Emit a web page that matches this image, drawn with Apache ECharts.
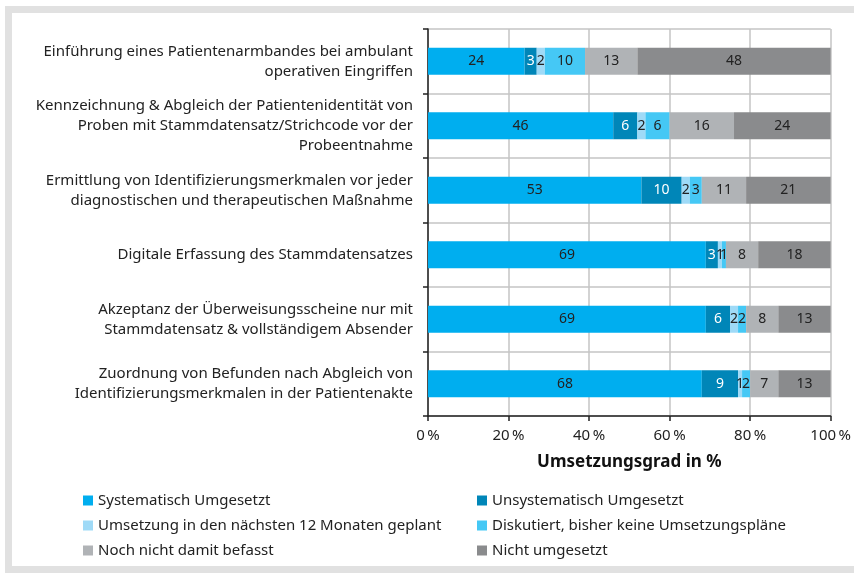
<!DOCTYPE html>
<html>
<head>
<meta charset="utf-8">
<script src="https://cdn.jsdelivr.net/npm/echarts@6/dist/echarts.min.js"></script>
<style>
  html, body { margin: 0; padding: 0; background: #fff; }
  #chart { width: 854px; height: 573px; }
</style>
</head>
<body>
<div id="chart"></div>
<script>
// Maßnahmen (von oben nach unten)
const categories = [
  "Einführung eines Patientenarmbandes bei ambulant\noperativen Eingriffen",
  "Kennzeichnung & Abgleich der Patientenidentität von\nProben mit Stammdatensatz/Strichcode vor der\nProbeentnahme",
  "Ermittlung von Identifizierungsmerkmalen vor jeder\ndiagnostischen und therapeutischen Maßnahme",
  "Digitale Erfassung des Stammdatensatzes",
  "Akzeptanz der Überweisungsscheine nur mit\nStammdatensatz & vollständigem Absender",
  "Zuordnung von Befunden nach Abgleich von\nIdentifizierungsmerkmalen in der Patientenakte"
];
const seriesNames = [
  "Systematisch Umgesetzt",
  "Unsystematisch Umgesetzt",
  "Umsetzung in den nächsten 12 Monaten geplant",
  "Diskutiert, bisher keine Umsetzungspläne",
  "Noch nicht damit befasst",
  "Nicht umgesetzt"
];
const systematisch   = [24, 46, 53, 69, 69, 68];
const unsystematisch = [3, 6, 10, 3, 6, 9];
const geplant        = [2, 2, 2, 1, 2, 1];
const diskutiert     = [10, 6, 3, 1, 2, 2];
const nochNicht      = [13, 16, 11, 8, 8, 7];
const nichtUmgesetzt = [48, 24, 21, 18, 13, 13];
const xTicks = [0, 20, 40, 60, 80, 100];

const colors = ["#00aeef", "#0086b8", "#9fdaf7", "#45c8f5", "#b0b3b6", "#8a8b8d"];
const labelColors = ["#222", "#fff", "#222", "#222", "#222", "#222"];
const values = [systematisch, unsystematisch, geplant, diskutiert, nochNicht, nichtUmgesetzt];

const font = "Noto Sans";

const chart = echarts.init(document.getElementById("chart"));
const option = {
  backgroundColor: "#fff",
  animation: false,
  textStyle: { fontFamily: font },
  graphic: [
    { type: "rect", shape: { x: 5, y: 6, width: 849, height: 7 }, style: { fill: "#e1e1e1" } },
    { type: "rect", shape: { x: 5, y: 6, width: 7, height: 564 }, style: { fill: "#e1e1e1" } },
    { type: "rect", shape: { x: 5, y: 566, width: 849, height: 7 }, style: { fill: "#e1e1e1" } }
  ],
  grid: { left: 428, right: 23, top: 29, bottom: 157, containLabel: false },
  xAxis: {
    type: "value",
    min: 0,
    max: 100,
    interval: 20,
    name: "Umsetzungsgrad in %",
    nameLocation: "middle",
    nameGap: 38,
    nameTextStyle: { fontSize: 17, fontWeight: "bold", color: "#111", fontFamily: font },
    axisLine: { show: true, lineStyle: { color: "#222", width: 1.5 } },
    axisTick: { show: true, length: 5, lineStyle: { color: "#222", width: 1.5 } },
    axisLabel: {
      fontSize: 15, color: "#222", margin: 12,
      formatter: v => xTicks.includes(v) ? v + "\u2009%" : ""
    },
    splitLine: { show: true, lineStyle: { color: "#c4c4c4", width: 1.5 } }
  },
  yAxis: {
    type: "category",
    inverse: true,
    data: categories,
    axisLine: { show: true, lineStyle: { color: "#222", width: 1.5 } },
    axisTick: { show: true, length: 5, lineStyle: { color: "#222", width: 1.5 } },
    axisLabel: { fontSize: 15, color: "#222", lineHeight: 20, align: "right", margin: 15 },
    splitLine: { show: true, lineStyle: { color: "#c4c4c4", width: 1.5 } }
  },
  legend: [
    {
      data: [seriesNames[0], seriesNames[2], seriesNames[4]],
      orient: "vertical", left: 78, top: 488, itemGap: 10,
      itemWidth: 10, itemHeight: 10, icon: "rect",
      textStyle: { fontSize: 15, color: "#222", fontFamily: font }
    },
    {
      data: [seriesNames[1], seriesNames[3], seriesNames[5]],
      orient: "vertical", left: 472, top: 488, itemGap: 10,
      itemWidth: 10, itemHeight: 10, icon: "rect",
      textStyle: { fontSize: 15, color: "#222", fontFamily: font }
    }
  ],
  series: seriesNames.map((name, i) => ({
    name: name,
    type: "bar",
    stack: "total",
    barWidth: 27,
    data: values[i],
    itemStyle: { color: colors[i] },
    label: {
      show: true,
      position: "inside",
      fontSize: 14,
      color: labelColors[i],
      fontFamily: font
    }
  }))
};
chart.setOption(option);
</script>
</body>
</html>
